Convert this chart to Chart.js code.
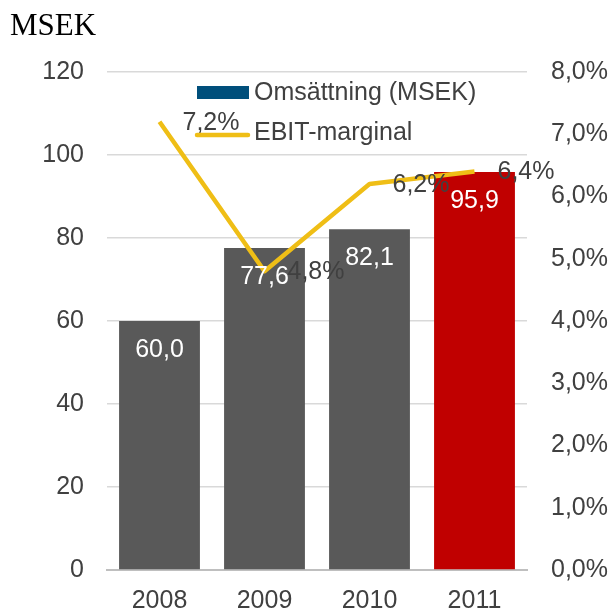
<!DOCTYPE html>
<html>
<head>
<meta charset="utf-8">
<script src="https://cdn.jsdelivr.net/npm/chart.js@4"></script>
<style>
  html, body { margin: 0; padding: 0; background: #fff; }
  #wrap { width: 614px; height: 610px; }
</style>
</head>
<body>
<div id="wrap"><canvas id="c" width="614" height="610"></canvas></div>
<script>
const years = ['2008', '2009', '2010', '2011'];
const revenue = [60.0, 77.6, 82.1, 95.9];
const ebitMargin = [7.2, 4.8, 6.2, 6.4];
const barColors = ['#595959', '#595959', '#595959', '#C00000'];
const unitLabel = 'MSEK';

const FONT = '"Liberation Sans", Arial, sans-serif';
const fmt = (v, d) => v.toFixed(d).replace('.', ',');

const labelsPlugin = {
  id: 'labels',
  afterDatasetsDraw(chart) {
    const ctx = chart.ctx;
    ctx.save();
    ctx.font = '25px ' + FONT;
    ctx.textBaseline = 'middle';

    // line value labels, right of each point
    ctx.fillStyle = '#404040';
    ctx.textAlign = 'left';
    chart.getDatasetMeta(1).data.forEach((pt, i) => {
      ctx.fillText(fmt(ebitMargin[i], 1) + '%', pt.x + 23, pt.y + 1);
    });

    // bar value labels, inside the top
    ctx.fillStyle = '#ffffff';
    ctx.textAlign = 'center';
    chart.getDatasetMeta(0).data.forEach((bar, i) => {
      ctx.fillText(fmt(revenue[i], 1), bar.x, bar.y + 29);
    });
    ctx.restore();
  },
  afterDraw(chart) {
    const ctx = chart.ctx;
    ctx.save();
    // unit title
    ctx.fillStyle = '#000';
    ctx.font = '31px "Liberation Serif", "Times New Roman", serif';
    ctx.textAlign = 'left';
    ctx.textBaseline = 'alphabetic';
    ctx.fillText(unitLabel, 10, 35);

    // legend
    const ds = chart.data.datasets;
    ctx.font = '25px ' + FONT;
    ctx.textBaseline = 'middle';
    ctx.fillStyle = '#004F7B';
    ctx.fillRect(197, 86, 52, 13);
    ctx.fillStyle = '#404040';
    ctx.fillText(ds[0].label, 254, 93);

    ctx.strokeStyle = '#EFBE16';
    ctx.lineWidth = 4.5;
    ctx.lineCap = 'round';
    ctx.beginPath();
    ctx.moveTo(197, 135);
    ctx.lineTo(248, 135);
    ctx.stroke();
    ctx.fillText(ds[1].label, 254, 133);
    ctx.restore();
  }
};

new Chart(document.getElementById('c'), {
  type: 'bar',
  data: {
    labels: years,
    datasets: [{
      label: 'Omsättning (MSEK)',
      data: revenue,
      backgroundColor: barColors,
      barPercentage: 0.77,
      categoryPercentage: 1,
      yAxisID: 'y',
      order: 1
    }, {
      type: 'line',
      label: 'EBIT-marginal',
      data: ebitMargin,
      borderColor: '#EFBE16',
      borderWidth: 4.5,
      pointRadius: 0,
      tension: 0,
      borderJoinStyle: 'round',
      yAxisID: 'y2',
      order: 0
    }]
  },
  options: {
    responsive: false,
    animation: false,
    layout: { padding: { top: 72, left: 0, right: 0, bottom: 0 } },
    plugins: {
      legend: { display: false },
      tooltip: { enabled: false }
    },
    scales: {
      x: {
        grid: { display: false },
        border: { display: true, color: '#BFBFBF', width: 2 },
        ticks: { color: '#404040', font: { family: FONT, size: 25 }, padding: 8 },
        afterFit(axis) { axis.height = 40; }
      },
      y: {
        position: 'left',
        min: 0,
        max: 120,
        ticks: { stepSize: 20, color: '#404040', font: { family: FONT, size: 25 }, padding: 23 },
        grid: {
          drawTicks: false,
          color: (c) => c.tick && c.tick.value === 0 ? 'rgba(0,0,0,0)' : '#D9D9D9',
          lineWidth: 1.5
        },
        border: { display: false },
        afterFit(axis) { axis.width = 107; }
      },
      y2: {
        position: 'right',
        min: 0,
        max: 8,
        ticks: {
          stepSize: 1,
          color: '#404040',
          font: { family: FONT, size: 25 },
          padding: 24,
          callback: (v) => fmt(v, 1) + '%'
        },
        grid: { display: false, drawTicks: false },
        border: { display: false },
        afterFit(axis) { axis.width = 87; }
      }
    }
  },
  plugins: [labelsPlugin]
});
</script>
</body>
</html>
